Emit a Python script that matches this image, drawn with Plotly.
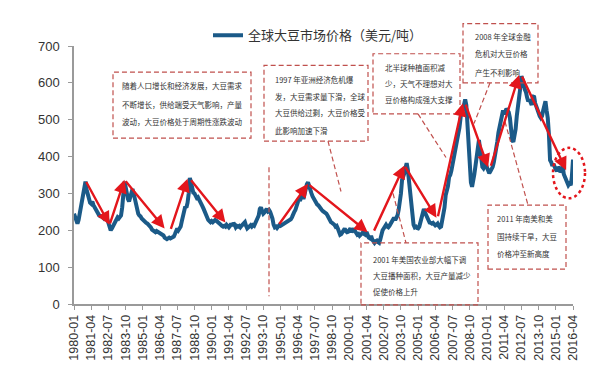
import plotly.graph_objects as go

# ---------------- data ----------------
months = [f"{y}-{m:02d}" for y in range(1980, 2017) for m in range(1, 13)][:436]

prices_1980s = [
    245, 238, 225, 218, 228, 245, 275, 290, 300, 312, 332, 310,   # 1980
    295, 285, 275, 272, 278, 268, 262, 255, 248, 245, 240, 238,   # 1981
    238, 235, 232, 236, 238, 230, 222, 212, 200, 205, 212, 218,   # 1982
    222, 228, 235, 232, 238, 240, 262, 305, 332, 318, 295, 285,   # 1983
    278, 292, 305, 312, 300, 285, 262, 255, 245, 240, 238, 232,   # 1984
    228, 225, 222, 220, 218, 215, 212, 208, 202, 200, 198, 195,   # 1985
    198, 196, 195, 192, 190, 188, 186, 180, 178, 176, 178, 180,   # 1986
    178, 180, 182, 183, 190, 195, 205, 200, 206, 210, 225, 240,   # 1987
    258, 265, 262, 275, 300, 342, 330, 310, 302, 300, 292, 288,   # 1988
    290, 282, 278, 270, 265, 258, 250, 240, 232, 228, 225, 222,   # 1989
]
prices_1990s = [
    225, 222, 225, 228, 226, 224, 220, 218, 215, 212, 210, 212,   # 1990
    210, 215, 212, 208, 212, 218, 212, 220, 215, 208, 212, 210,   # 1991
    212, 208, 212, 215, 218, 222, 212, 205, 208, 212, 214, 210,   # 1992
    214, 212, 218, 225, 232, 240, 258, 262, 252, 245, 248, 255,   # 1993
    258, 252, 255, 250, 242, 232, 215, 208, 210, 206, 210, 214,   # 1994
    212, 214, 215, 216, 218, 220, 222, 225, 228, 230, 235, 245,   # 1995
    250, 255, 262, 275, 285, 280, 290, 295, 285, 300, 315, 325,   # 1996
    330, 318, 305, 300, 292, 285, 282, 275, 270, 268, 262, 258,   # 1997
    255, 252, 250, 248, 245, 240, 232, 225, 222, 220, 218, 215,   # 1998
    210, 212, 205, 198, 188, 190, 195, 200, 205, 198, 195, 196,   # 1999
]
prices_2000s = [
    200, 205, 195, 200, 205, 198, 192, 188, 190, 185, 188, 192,   # 2000
    195, 190, 188, 195, 185, 180, 178, 185, 175, 168, 166, 170,   # 2001
    172, 168, 166, 175, 195, 200, 205, 212, 215, 210, 208, 212,   # 2002
    218, 222, 230, 234, 228, 232, 240, 255, 274, 300, 337, 345,   # 2003
    355, 370, 382, 365, 335, 290, 258, 235, 215, 208, 210, 206,   # 2004
    205, 210, 225, 232, 250, 258, 248, 240, 232, 225, 221, 220,   # 2005
    218, 220, 215, 213, 215, 218, 212, 208, 210, 225, 250, 262,   # 2006
    295, 305, 320, 345, 350, 362, 378, 385, 405, 425, 440, 462,   # 2007
    478, 505, 530, 525, 545, 555, 540, 485, 420, 380, 330, 318,   # 2008
    330, 352, 375, 398, 430, 445, 420, 390, 372, 368, 375, 380,   # 2009
]
prices_2010s = [
    370, 362, 355, 360, 365, 372, 385, 400, 420, 440, 465, 480,   # 2010
    495, 510, 525, 515, 520, 530, 525, 520, 505, 470, 445, 440,   # 2011
    455, 475, 510, 545, 560, 585, 618, 610, 600, 582, 575, 560,   # 2012
    550, 555, 545, 540, 562, 565, 545, 535, 528, 520, 510, 505,   # 2013
    510, 525, 540, 550, 525, 505, 460, 390, 385, 375, 380, 368,   # 2014
    365, 360, 372, 368, 358, 362, 375, 352, 345, 335, 325, 322,   # 2015
    326, 322, 345, 392,                                           # 2016
]
prices = prices_1980s + prices_1990s + prices_2000s + prices_2010s

tick_labels = ["1980-01", "1981-04", "1982-07", "1983-10", "1985-01", "1986-04",
               "1987-07", "1988-10", "1990-01", "1991-04", "1992-07", "1993-10",
               "1995-01", "1996-04", "1997-07", "1998-10", "2000-01", "2001-04",
               "2002-07", "2003-10", "2005-01", "2006-04", "2007-07", "2008-10",
               "2010-01", "2011-04", "2012-07", "2013-10", "2015-01", "2016-04"]
y_ticks = [0, 100, 200, 300, 400, 500, 600, 700]

series_name = "全球大豆市场价格（美元/吨）"

# trend arrows: (tail month, tail value, head month, head value)
trend_arrows = [
    ("1980-11", 335, "1982-08", 215),
    ("1982-08", 215, "1983-09", 337),
    ("1983-09", 337, "1986-08", 205),
    ("1987-01", 200, "1988-04", 340),
    ("1988-06", 340, "1991-01", 221),
    ("1994-11", 213, "1997-01", 326),
    ("1997-01", 326, "2001-05", 195),
    ("2001-10", 195, "2004-01", 376),
    ("2004-01", 376, "2006-05", 234),
    ("2006-06", 234, "2008-04", 545),
    ("2008-06", 545, "2010-02", 371),
    ("2010-04", 371, "2012-05", 621),
    ("2012-07", 621, "2015-10", 363),
]

notes = [
    # (box x0, y0, x1, y1 in px), text-left px, line y px list, lines
    ((105, 62, 243, 130), 112, [76, 95, 113],
     ["随着人口增长和经济发展，大豆需求", "不断增长，供给端受天气影响，产量", "波动，大豆价格处于周期性涨跌波动"]),
    ((256, 55, 360, 133), 265, [70, 87, 104, 122],
     ["1997 年亚洲经济危机爆", "发，大豆需求量下滑，全球", "大豆供给过剩，大豆价格受", "此影响加速下滑"]),
    ((365, 43, 452, 105), 375, [57, 74, 90],
     ["北半球种植面积减", "少，天气不理想对大", "豆价格构成强大支撑"]),
    ((455, 12, 530, 73), 465, [25, 43, 62],
     ["2008 年全球金融", "危机对大豆价格", "产生不利影响"]),
    ((480, 199, 558, 265), 487, [213, 231, 249],
     ["2011 年南美和美", "国持续干旱，大豆", "价格冲至新高度"]),
    ((353, 238, 470, 302), 363, [255, 272, 288],
     ["2001 年美国农业部大幅下调", "大豆播种面积，大豆产量减少", "促使价格上升"]),
]
connectors = [((320, 133), (333, 185)), ((410, 105), (438, 150)),
              ((482, 73), (466, 115)), ((497, 113), (520, 199)),
              ((385, 187), (398, 238)), ((261, 160), (261, 293))]

# ---------------- layout helpers ----------------
L, R, T, B = 66, 565, 35, 301
W, H = 595, 365


def PX(x):
    return (x - L) / (R - L)


def PY(y):
    return (B - y) / (B - T)


FONT = "Arial, 'Liberation Sans', 'Noto Sans CJK SC', sans-serif"
CJK = "'Noto Sans CJK SC', sans-serif"
BOX_COLOR = "#c0504d"
RED = "#e3161c"

fig = go.Figure()
fig.add_trace(go.Scatter(x=months, y=prices, mode="lines", name=series_name,
                         line=dict(color="#1b5a88", width=4)))

shapes = []
annotations = []
for (x0, y0, x1, y1), tx, ys, lines in notes:
    shapes.append(dict(type="rect", xref="paper", yref="paper",
                       x0=PX(x0), x1=PX(x1), y0=PY(y1), y1=PY(y0),
                       line=dict(color=BOX_COLOR, width=1.2, dash="5px,3px"),
                       fillcolor="rgba(255,255,255,0)", layer="above"))
    for ly, txt in zip(ys, lines):
        annotations.append(dict(xref="paper", yref="paper", x=PX(tx), y=PY(ly),
                                xanchor="left", yanchor="middle", showarrow=False,
                                text=txt, font=dict(family=CJK, size=7.5, color="#333333")))
for (ax0, ay0), (ax1, ay1) in connectors:
    shapes.append(dict(type="line", xref="paper", yref="paper",
                       x0=PX(ax0), y0=PY(ay0), x1=PX(ax1), y1=PY(ay1),
                       line=dict(color=BOX_COLOR, width=1.2, dash="5px,3px")))

# red dotted ellipse around the latest prices
shapes.append(dict(type="circle", xref="paper", yref="paper",
                   x0=PX(545), x1=PX(577), y0=PY(192), y1=PY(140),
                   line=dict(color=RED, width=2.5, dash="dot")))

for tm, tv, hm, hv in trend_arrows:
    annotations.append(dict(x=hm, y=hv, ax=tm, ay=tv, xref="x", yref="y",
                            axref="x", ayref="y", text="", showarrow=True,
                            arrowhead=2, arrowsize=1.1, arrowwidth=2.4,
                            arrowcolor=RED, standoff=0, startstandoff=0))

fig.update_layout(
    width=W, height=H,
    margin=dict(l=L, r=W - R, t=T, b=H - B),
    paper_bgcolor="white", plot_bgcolor="white",
    font=dict(family=FONT, color="#333333"),
    showlegend=True,
    legend=dict(x=PX(200), y=PY(24), xanchor="left", yanchor="middle",
                orientation="h", bgcolor="rgba(0,0,0,0)",
                font=dict(family=CJK, size=13, color="#333333")),
    xaxis=dict(type="category", range=[0, len(months) - 1],
               tickmode="array", tickvals=tick_labels, ticktext=tick_labels,
               tickangle=-90, tickfont=dict(size=12.5, color="#333333", family=FONT),
               showgrid=False, zeroline=False, showline=True,
               linecolor="#9a9a9a", linewidth=1.5, ticks="outside",
               ticklen=4, tickcolor="#9a9a9a"),
    yaxis=dict(range=[0, 700], tickmode="array", tickvals=y_ticks,
               tickfont=dict(size=13, color="#333333", family=FONT),
               ticklabelstandoff=6,
               showgrid=False, zeroline=False, showline=True,
               linecolor="#9a9a9a", linewidth=1.5, ticks="outside",
               ticklen=4, tickcolor="#9a9a9a"),
    shapes=shapes, annotations=annotations,
)

fig.write_html("out.html")
